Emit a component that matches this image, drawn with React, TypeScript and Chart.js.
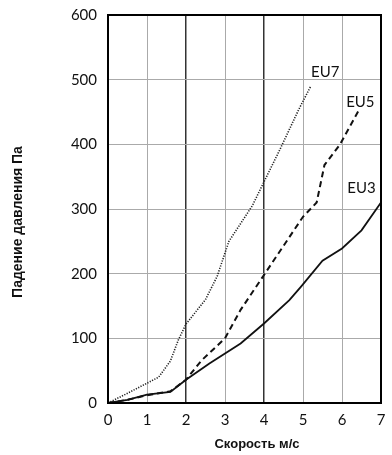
import React, { useEffect, useRef } from "react";
import { Chart, registerables } from "chart.js";

Chart.register(...registerables);

const seriesNames = ["EU7", "EU5", "EU3"];
const eu7X = [0, 0.5, 1.3, 1.6, 1.8, 2.0, 2.5, 2.8, 3.1, 3.7, 4.0, 4.4, 4.9, 5.2];
const eu7Y = [0, 15, 40, 65, 97, 122, 160, 196, 250, 305, 342, 391, 455, 490];
const eu5X = [0, 0.5, 1.0, 1.6, 2.0, 2.4, 3.0, 3.4, 4.0, 5.0, 5.35, 5.55, 5.95, 6.45];
const eu5Y = [0, 5, 12, 18, 36, 66, 100, 144, 198, 288, 310, 368, 400, 455];
const eu3X = [0, 0.5, 1.0, 1.6, 2.0, 2.6, 3.4, 4.0, 4.65, 4.95, 5.5, 6.0, 6.5, 7.0];
const eu3Y = [0, 5, 13, 17, 36, 61, 92, 123, 159, 180, 220, 239, 267, 310];
const labelX = [5.57, 6.47, 6.5];
const labelY = [511, 465, 332];
const xTicks = [0, 1, 2, 3, 4, 5, 6, 7];
const yTicks = [0, 100, 200, 300, 400, 500, 600];
const xTitle = "Скорость м/с";
const yTitle = "Падение давления Па";

const toPts = (xs: number[], ys: number[]) => xs.map((x, i) => ({ x, y: ys[i] }));

export default function App() {
  const ref = useRef<HTMLCanvasElement>(null);
  useEffect(() => {
    document.body.style.margin = "0";
    const labelPlugin = {
      id: "seriesLabels",
      afterDatasetsDraw(chart: any) {
        const { ctx, scales } = chart;
        ctx.save();
        ctx.fillStyle = "#111";
        ctx.font = "15px Lato";
        ctx.textAlign = "center";
        ctx.textBaseline = "middle";
        seriesNames.forEach((n, i) => {
          ctx.fillText(n, scales.x.getPixelForValue(labelX[i]), scales.y.getPixelForValue(labelY[i]));
        });
        const a = chart.chartArea;
        ctx.strokeStyle = "#000";
        ctx.lineWidth = 2;
        ctx.strokeRect(a.left, a.top, a.right - a.left, a.bottom - a.top);
        ctx.font = "bold 13px 'Liberation Sans'";
        ctx.fillText(xTitle, 257, 444);
        ctx.translate(18, 222);
        ctx.rotate(-Math.PI / 2);
        ctx.font = "bold 14px 'Liberation Sans'";
        ctx.fillText(yTitle, 0, 0);
        ctx.restore();
      },
    };
    const chart = new Chart(ref.current!, {
      type: "line",
      data: {
        datasets: [
          {
            label: seriesNames[0],
            data: toPts(eu7X, eu7Y),
            borderColor: "#222",
            borderWidth: 1.6,
            borderDash: [1.2, 1.4],
            pointRadius: 0,
            tension: 0,
          },
          {
            label: seriesNames[1],
            data: toPts(eu5X, eu5Y),
            borderColor: "#111",
            borderWidth: 2,
            borderDash: [6, 4],
            pointRadius: 0,
            tension: 0,
          },
          {
            label: seriesNames[2],
            data: toPts(eu3X, eu3Y),
            borderColor: "#111",
            borderWidth: 1.8,
            pointRadius: 0,
            tension: 0,
          },
        ],
      },
      options: {
        responsive: false,
        animation: false,
        layout: { padding: { top: 15, right: 11, left: 0, bottom: 0 } },
        plugins: { legend: { display: false }, tooltip: { enabled: false } },
        scales: {
          x: {
            type: "linear",
            min: 0,
            max: 7,
            afterBuildTicks: (s: any) => {
              s.ticks = xTicks.map((v) => ({ value: v }));
            },
            afterFit: (s: any) => {
              s.height = 52;
              s.paddingLeft = 0;
              s.paddingRight = 0;
            },
            grid: {
              drawTicks: false,
              color: (c: any) => (c.tick && (c.tick.value === 2 || c.tick.value === 4) ? "#333" : "#aaa"),
              lineWidth: (c: any) => (c.tick && (c.tick.value === 2 || c.tick.value === 4) ? 1.5 : 1),
            },
            border: { display: false },
            ticks: {
              color: "#111",
              font: { family: "Lato", size: 15 },
              padding: 8,
              maxRotation: 0,
            },
          },
          y: {
            min: 0,
            max: 600,
            afterBuildTicks: (s: any) => {
              s.ticks = yTicks.map((v) => ({ value: v }));
            },
            afterFit: (s: any) => {
              s.width = 108;
              s.paddingTop = 0;
              s.paddingBottom = 0;
            },
            grid: { drawTicks: false, color: "#aaa", lineWidth: 1 },
            border: { display: false },
            ticks: {
              color: "#111",
              font: { family: "Lato", size: 15 },
              padding: 11,
            },
          },
        },
      },
      plugins: [labelPlugin],
    } as any);
    return () => chart.destroy();
  }, []);
  return (
    <div style={{ width: 392, height: 455 }}>
      <canvas ref={ref} width={392} height={455} />
    </div>
  );
}
